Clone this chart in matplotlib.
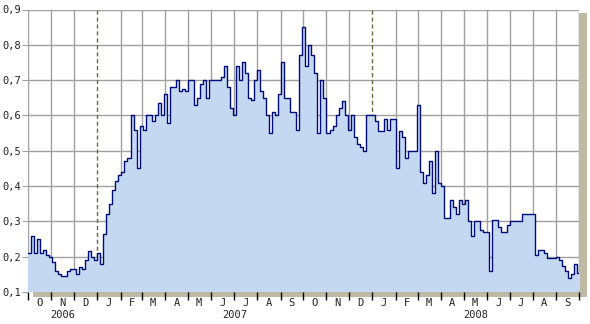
import matplotlib
matplotlib.use("Agg")
import matplotlib.pyplot as plt
import matplotlib.dates as mdates
from matplotlib.patches import Rectangle
from matplotlib.ticker import FuncFormatter
import pandas as pd

# values sampled every 4 days starting 2006-10-01
values = [
    0.21, 0.26, 0.21, 0.25, 0.21, 0.22, 0.205, 0.20, 0.185, 0.16,
    0.15, 0.145, 0.145, 0.16, 0.165, 0.165, 0.15, 0.17, 0.165, 0.19,
    0.215, 0.20, 0.19, 0.21, 0.18, 0.265, 0.32, 0.35, 0.39, 0.415,
    0.43, 0.44, 0.47, 0.48, 0.60, 0.56, 0.45, 0.57, 0.56, 0.60,
    0.60, 0.585, 0.60, 0.635, 0.60, 0.66, 0.58, 0.68, 0.68, 0.70,
    0.67, 0.675, 0.67, 0.70, 0.70, 0.63, 0.65, 0.69, 0.70, 0.65,
    0.70, 0.70, 0.70, 0.70, 0.71, 0.74, 0.68, 0.62, 0.60, 0.74,
    0.70, 0.75, 0.72, 0.65, 0.645, 0.70, 0.73, 0.67, 0.65, 0.60,
    0.55, 0.61, 0.60, 0.66, 0.75, 0.65, 0.65, 0.61, 0.61, 0.56,
    0.77, 0.85, 0.74, 0.80, 0.77, 0.72, 0.55, 0.70, 0.65, 0.55,
    0.56, 0.57, 0.60, 0.62, 0.64, 0.60, 0.56, 0.60, 0.54, 0.52,
    0.51, 0.50, 0.60, 0.60, 0.60, 0.585, 0.555, 0.555, 0.59, 0.56,
    0.59, 0.59, 0.45, 0.555, 0.54, 0.48, 0.50, 0.50, 0.50, 0.63,
    0.44, 0.41, 0.43, 0.47, 0.38, 0.50, 0.41, 0.40, 0.31, 0.31,
    0.36, 0.34, 0.32, 0.36, 0.35, 0.36, 0.30, 0.26, 0.30, 0.30,
    0.275, 0.27, 0.27, 0.16, 0.305, 0.305, 0.285, 0.27, 0.27, 0.29,
    0.30, 0.30, 0.30, 0.30, 0.32, 0.32, 0.32, 0.32, 0.205, 0.22,
    0.22, 0.21, 0.195, 0.195, 0.195, 0.20, 0.19, 0.175, 0.16, 0.14,
    0.15, 0.18, 0.155, 0.11,
]
start_date = "2006-10-01"
end_date = "2008-10-01"
y_ticks = [0.1, 0.2, 0.3, 0.4, 0.5, 0.6, 0.7, 0.8, 0.9]
years = [("2006", "2006-10-01", "2006-12-31"),
         ("2007", "2007-01-01", "2007-12-31"),
         ("2008", "2008-01-01", "2008-09-30")]

dates = pd.date_range(start_date, periods=len(values), freq="4D")

W, H = 590, 324
fig = plt.figure(figsize=(W / 100, H / 100), dpi=100)
fig.patch.set_facecolor("white")

# shadow (3D effect)
fig.patches.append(Rectangle((33 / W, (H - 297) / H), 554 / W, 284 / H,
                             transform=fig.transFigure, facecolor="#bdb9a2",
                             edgecolor="none", zorder=-5))

ax = fig.add_axes([28 / W, (H - 292) / H, (579 - 28) / W, (292 - 9.5) / H])
ax.set_facecolor("white")
ax.patch.set_zorder(-1)

ax.set_xlim(pd.Timestamp(start_date), pd.Timestamp(end_date))
ax.set_ylim(0.1, 0.9)

# grid
for yv in y_ticks:
    ax.axhline(yv, color="#a0a0a0", lw=1.0, zorder=0)
for m in pd.date_range(start_date, end_date, freq="MS"):
    if m.month == 1:
        ax.axvline(m, color="#6b6b3a", lw=1.0, ls=(0, (3, 2)), zorder=0)
    else:
        ax.axvline(m, color="#a0a0a0", lw=1.0, zorder=0)

ax.fill_between(dates, values, 0.1, step="post", color="#c4d9f1", lw=0, zorder=1)
ax.plot(dates, values, drawstyle="steps-post", color="#000c7a", lw=1.0, zorder=2)

for s in ax.spines.values():
    s.set_visible(False)

mono = "DejaVu Sans Mono"
ax.set_yticks(y_ticks)
ax.set_yticklabels([("%.1f" % v).replace(".", ",") for v in y_ticks],
                   fontsize=7.5, family=mono, color="#222222")
ax.tick_params(axis="y", length=4, color="#a0a0a0", pad=1)

ax.xaxis.set_major_locator(mdates.MonthLocator())
ax.xaxis.set_major_formatter(FuncFormatter(lambda x, p: ""))
ax.xaxis.set_minor_locator(mdates.MonthLocator(bymonthday=16))
ax.xaxis.set_minor_formatter(FuncFormatter(
    lambda x, p: mdates.num2date(x).strftime("%b")[0]))
ax.tick_params(axis="x", which="major", length=6, width=1, color="black", direction="out")
ax.tick_params(axis="x", which="minor", length=0, pad=4, labelsize=7.5)
for lab in ax.get_xticklabels(minor=True):
    lab.set_family(mono)
    lab.set_color("#222222")

for name, a, b in years:
    mid = pd.Timestamp(a) + (pd.Timestamp(b) - pd.Timestamp(a)) / 2
    ax.text(mid, -0.083, name, transform=ax.get_xaxis_transform(),
            ha="center", va="center", fontsize=7.5, family=mono, color="#222222")

fig.savefig("out.png", dpi=100)
